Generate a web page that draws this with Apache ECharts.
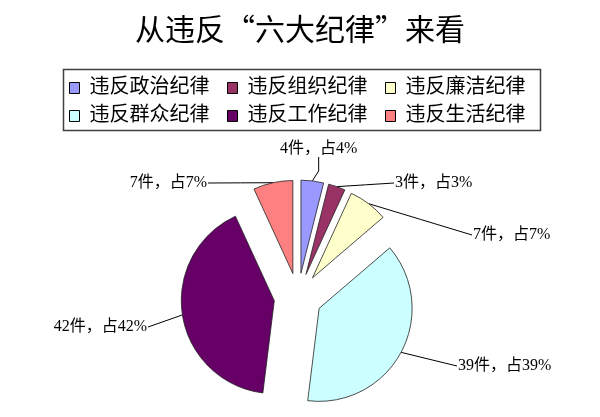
<!DOCTYPE html>
<html><head><meta charset="utf-8">
<script src="https://cdn.jsdelivr.net/npm/echarts@6/dist/echarts.min.js"></script>
<style>html,body{margin:0;padding:0;background:#fff}#c{width:600px;height:417px}</style>
</head><body><div id="c"></div>
<script>
var titleText = '从违反“六大纪律”来看';
var categories = ['违反政治纪律','违反组织纪律','违反廉洁纪律','违反群众纪律','违反工作纪律','违反生活纪律'];
var counts = [4, 3, 7, 39, 42, 7];
var percents = [4, 3, 7, 39, 42, 7];
var colors = ['#9999FF','#993366','#FFFFCC','#CCFFFF','#660066','#FF8080'];

// styling / layout (not data)
var pieCenter = [298, 297];
var pieRadius = 93;
var explode = 24;
var labelPlace = [
  {x: 280, y: 149, align: 'left',  attach: 'bottom'},
  {x: 395, y: 183, align: 'left',  attach: 'left'},
  {x: 473, y: 235, align: 'left',  attach: 'left'},
  {x: 458, y: 366, align: 'left',  attach: 'left'},
  {x: 147, y: 327, align: 'right', attach: 'right'},
  {x: 207, y: 183, align: 'right', attach: 'right'}
];
var legendCols = [[0, 3], [1, 4], [2, 5]];
var legendLeft = [69, 227, 385];

var font = '"Liberation Serif", "Noto Sans CJK SC", serif';
var chart = echarts.init(document.getElementById('c'));

var legends = legendCols.map(function (col, k) {
  return {
    data: col.map(function (i) { return categories[i]; }),
    left: legendLeft[k], top: 78,
    orient: 'vertical', padding: 0,
    itemWidth: 10, itemHeight: 11, itemGap: 8,
    icon: 'rect',
    itemStyle: {borderColor: '#000', borderWidth: 1},
    textStyle: {fontFamily: font, fontSize: 20, color: '#000', padding: [0, 0, 0, 5]}
  };
});

chart.setOption({
  backgroundColor: '#fff',
  animation: false,
  title: {
    text: titleText, left: 'center', top: 9,
    textStyle: {fontFamily: '"Noto Sans CJK SC", sans-serif', fontSize: 30, fontWeight: 'normal', color: '#000'}
  },
  graphic: [{
    type: 'rect', left: 61, top: 67,
    shape: {width: 477, height: 61},
    style: {fill: 'none', stroke: '#404040', lineWidth: 1.5},
    silent: true
  }],
  legend: legends,
  series: [{
    type: 'pie',
    center: pieCenter,
    radius: pieRadius,
    startAngle: 90,
    clockwise: true,
    selectedMode: 'multiple',
    selectedOffset: explode,
    itemStyle: {borderColor: '#222', borderWidth: 0.8},
    label: {show: false},
    labelLine: {show: false},
    emphasis: {disabled: true},
    data: categories.map(function (n, i) {
      return {name: n, value: counts[i], selected: true, itemStyle: {color: colors[i]}};
    })
  }, {
    type: 'pie',
    silent: true,
    center: pieCenter,
    radius: pieRadius,
    startAngle: 90,
    clockwise: true,
    selectedMode: false,
    legendHoverLink: false,
    avoidLabelOverlap: false,
    itemStyle: {color: 'rgba(0,0,0,0)', borderWidth: 0},
    label: {
      show: true, position: 'outside',
      fontFamily: font, fontSize: 16, color: '#000',
      formatter: function (p) { return counts[p.dataIndex] + '件，占' + percents[p.dataIndex] + '%'; }
    },
    labelLine: {show: true, length: 10, length2: 20, lineStyle: {color: '#000', width: 1}},
    labelLayout: function (p) {
      var lp = labelPlace[p.dataIndex];
      var pts = p.labelLinePoints;
      var e0 = pts[0];
      var vx = e0[0] - pieCenter[0], vy = e0[1] - pieCenter[1];
      var len = Math.sqrt(vx * vx + vy * vy) || 1;
      var s = [e0[0] + explode * vx / len, e0[1] + explode * vy / len];
      var w = p.labelRect.width;
      var t;
      if (lp.attach === 'bottom') t = [lp.x + w / 2, lp.y + 8];
      else if (lp.attach === 'left') t = [lp.x - 1, lp.y];
      else t = [lp.x + 1, lp.y];
      var m;
      if (lp.attach === 'bottom') m = [t[0], (s[1] + t[1]) / 2 + 2];
      else m = [(s[0] + t[0]) / 2, (s[1] + t[1]) / 2];
      return {x: lp.x, y: lp.y, align: lp.align, verticalAlign: 'middle', labelLinePoints: [s, m, t]};
    },
    emphasis: {disabled: true},
    data: categories.map(function (n, i) {
      return {name: n, value: counts[i]};
    })
  }]
});
</script></body></html>
